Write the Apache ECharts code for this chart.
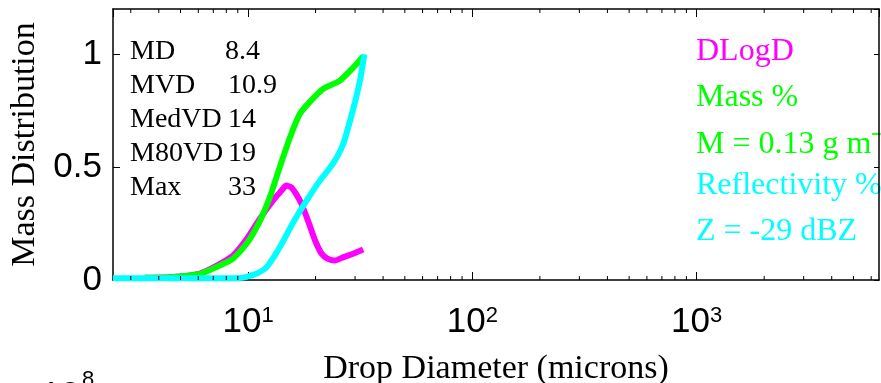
<!DOCTYPE html>
<html>
<head>
<meta charset="utf-8">
<script src="https://cdn.jsdelivr.net/npm/echarts@6/dist/echarts.min.js"></script>
<style>
html,body{margin:0;padding:0;background:#fff;}
#chart{width:881px;height:383px;}
</style>
</head>
<body>
<div id="chart"></div>
<script>
// ---- data ----
const xMin = 2.5, xMax = 6500;
const yMin = 0, yMax = 1.2;

const dlogdD = [3.46, 4.5, 6.09, 7.22, 8.57, 9.84, 11.27, 12.93, 14.1, 14.8, 15.6, 16.4, 17.3, 18.5, 19.9, 21.3, 22.6, 24.4, 26.5, 29.4, 32.6];
const dlogdV = [0.01, 0.012, 0.028, 0.062, 0.108, 0.18, 0.27, 0.352, 0.396, 0.418, 0.41, 0.38, 0.337, 0.263, 0.175, 0.116, 0.095, 0.086, 0.10, 0.116, 0.135];

const massD = [3.46, 4.5, 6.09, 7.22, 8.57, 9.84, 11.27, 12.5, 13.85, 15.36, 17.0, 18.9, 21.6, 25.7, 29.4, 32.6];
const massV = [0.01, 0.012, 0.027, 0.057, 0.095, 0.16, 0.26, 0.366, 0.50, 0.63, 0.735, 0.79, 0.846, 0.883, 0.94, 0.99];

const reflD = [2.5, 4, 6, 8, 9.2, 9.84, 11, 12.1, 13.85, 15.8, 18.2, 20.9, 23.9, 26.5, 29.3, 31.5, 33];
const reflV = [0.008, 0.008, 0.008, 0.008, 0.009, 0.014, 0.03, 0.057, 0.145, 0.25, 0.35, 0.44, 0.515, 0.60, 0.75, 0.88, 1.0];

const yTicks = [0, 0.5, 1];
const minorTicks = [3,4,5,6,7,8,9,20,30,40,50,60,70,80,90,200,300,400,500,600,700,800,900,2000,3000,4000,5000,6000];

const statNames = ['MD', 'MVD', 'MedVD', 'M80VD', 'Max'];
const statValues = ['8.4', '10.9', '14', '19', '33'];

const legendTexts = ['DLogD', 'Mass %', 'M = 0.13 g m\u207B\u00B3', 'Reflectivity %', 'Z = -29 dBZ'];
const legendColors = ['#ff00ff', '#00ff00', '#00ff00', '#00ffff', '#00ffff'];

const xTitle = 'Drop Diameter (microns)';
const yTitle = 'Mass Distribution';

// ---- chart ----
const chart = echarts.init(document.getElementById('chart'), null, {renderer: 'canvas'});
const serif = 'Liberation Serif, Times New Roman, serif';
const sans = 'Liberation Sans, Arial, Helvetica, sans-serif';

const zip = (a, b) => a.map((v, i) => [v, b[i]]);

const graphics = [];
statNames.forEach((n, i) => {
  const y = 54 + i * 34;
  graphics.push({type: 'text', left: 130, top: y - 16, style: {text: n, font: '28px ' + serif, fill: '#000'}});
  graphics.push({type: 'text', left: i === 0 ? 225 : 228, top: y - 16, style: {text: statValues[i], font: '28px ' + serif, fill: '#000'}});
});
const legY = [54, 100, 147, 188, 234];
legendTexts.forEach((t, i) => {
  graphics.push({type: 'text', left: 696, top: legY[i] - 18, style: {text: t, font: '32px ' + serif, fill: legendColors[i]}});
});
// fragment of next panel's label at bottom-left
graphics.push({type: 'text', left: 41, top: 379, style: {text: '10', font: '35px ' + sans, fill: '#000'}});
graphics.push({type: 'text', left: 82, top: 369, style: {text: '8', font: '22px ' + sans, fill: '#000'}});

const option = {
  backgroundColor: '#fff',
  animation: false,
  grid: {left: 113, right: 2, top: 9, bottom: 103, containLabel: false, outerBoundsMode: 'none'},
  xAxis: [{
    type: 'log', logBase: 10, min: xMin, max: xMax, position: 'bottom',
    axisLine: {show: true, onZero: false, lineStyle: {color: '#000', width: 1.5}},
    axisTick: {show: true, inside: true, length: 8, lineStyle: {color: '#000', width: 1}},
    splitLine: {show: false},
    axisLabel: {
      showMinLabel: false, showMaxLabel: false, margin: 25,
      formatter: v => '{b|10}{s|' + Math.round(Math.log10(v)) + '}',
      rich: {
        b: {fontSize: 35, fontFamily: sans, color: '#000'},
        s: {fontSize: 22, fontFamily: sans, color: '#000', verticalAlign: 'top', padding: [0, 0, 4, 0]}
      }
    },
    name: xTitle, nameLocation: 'middle', nameGap: 72,
    nameTextStyle: {fontSize: 34, fontFamily: serif, color: '#000'}
  }, {
    type: 'log', logBase: 10, min: xMin, max: xMax, position: 'top',
    axisLine: {show: true, onZero: false, lineStyle: {color: '#000', width: 1.5}},
    axisTick: {show: true, inside: true, length: 8, lineStyle: {color: '#000', width: 1}},
    axisLabel: {show: false}, splitLine: {show: false}
  }],
  yAxis: [{
    type: 'value', min: yMin, max: yMax, interval: 0.5, position: 'left',
    axisLine: {show: true, onZero: false, lineStyle: {color: '#000', width: 1.5}},
    axisTick: {show: true, inside: true, length: 7, lineStyle: {color: '#000', width: 1}},
    splitLine: {show: false},
    axisLabel: {showMaxLabel: false, margin: 11, fontSize: 35, fontFamily: sans, color: '#000',
      formatter: v => yTicks.indexOf(v) >= 0 ? String(v) : ''},
    name: yTitle, nameLocation: 'middle', nameGap: 66, nameRotate: 90,
    nameTextStyle: {fontSize: 34, fontFamily: serif, color: '#000'}
  }, {
    type: 'value', min: yMin, max: yMax, interval: 0.5, position: 'right',
    axisLine: {show: true, onZero: false, lineStyle: {color: '#000', width: 1.5}},
    axisTick: {show: true, inside: true, length: 5, lineStyle: {color: '#000', width: 1}},
    axisLabel: {show: false}, splitLine: {show: false}
  }],
  series: [
    {
      type: 'custom', xAxisIndex: 0, yAxisIndex: 0, silent: true, clip: false, z: 5,
      data: minorTicks.map(v => [v, 0]),
      renderItem: (params, api) => {
        const x = api.coord([api.value(0), yMin])[0];
        const yb = api.coord([xMin, yMin])[1];
        const yt = api.coord([xMin, yMax])[1];
        return {type: 'group', children: [
          {type: 'line', shape: {x1: x, y1: yb, x2: x, y2: yb - 4}, style: {stroke: '#000', lineWidth: 1}},
          {type: 'line', shape: {x1: x, y1: yt, x2: x, y2: yt + 4}, style: {stroke: '#000', lineWidth: 1}}
        ]};
      }
    },
    {type: 'line', name: 'DLogD', data: zip(dlogdD, dlogdV), showSymbol: false, smooth: 0.2, clip: false,
      lineStyle: {color: '#ff00ff', width: 6}, itemStyle: {color: '#ff00ff'}, z: 2},
    {type: 'line', name: 'Mass %', data: zip(massD, massV), showSymbol: false, smooth: 0.2, clip: false,
      lineStyle: {color: '#00ff00', width: 6}, itemStyle: {color: '#00ff00'}, z: 3},
    {type: 'line', name: 'Reflectivity %', data: zip(reflD, reflV), showSymbol: false, smooth: 0.2, clip: false,
      lineStyle: {color: '#00ffff', width: 6}, itemStyle: {color: '#00ffff'}, z: 4}
  ],
  graphic: graphics
};
chart.setOption(option);
</script>
</body>
</html>
